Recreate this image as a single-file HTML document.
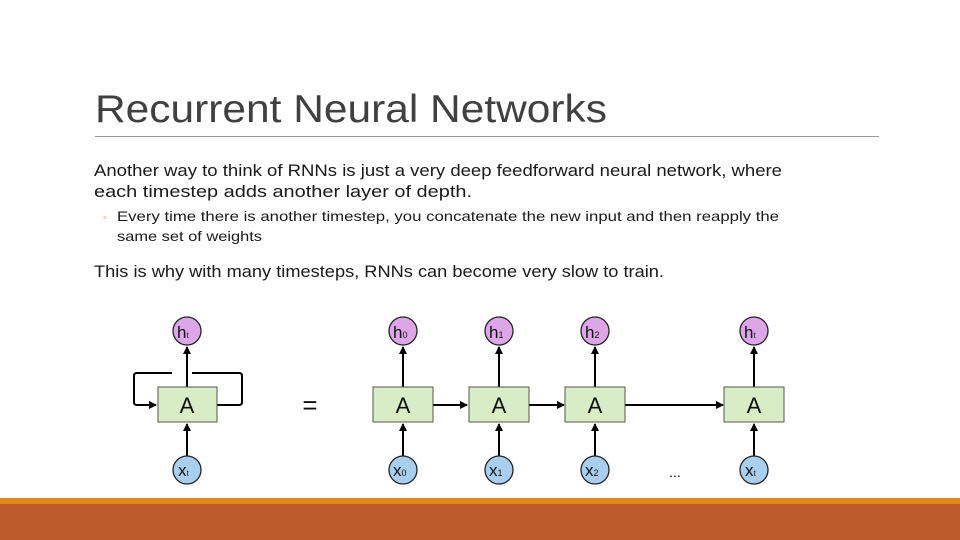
<!DOCTYPE html>
<html><head><meta charset="utf-8"><style>
html,body{margin:0;padding:0;background:#fff}
svg{display:block}
text{font-family:"Liberation Sans",sans-serif}
</style></head><body>
<svg width="960" height="540" viewBox="0 0 960 540" xmlns="http://www.w3.org/2000/svg">
<defs>
<marker id="ar" markerWidth="8" markerHeight="8" refX="7" refY="4" orient="auto" markerUnits="userSpaceOnUse"><path d="M0,0 L8,4 L0,8 z" fill="#000"/></marker>
</defs>
<text x="95" y="122" font-size="39" fill="#404040" textLength="512" lengthAdjust="spacingAndGlyphs">Recurrent Neural Networks</text>
<line x1="95" y1="136.5" x2="879" y2="136.5" stroke="#999" stroke-width="1"/>
<text x="94" y="176" font-size="16.5" fill="#1a1a1a" textLength="688" lengthAdjust="spacingAndGlyphs">Another way to think of RNNs is just a very deep feedforward neural network, where</text>
<text x="94" y="197" font-size="16.5" fill="#1a1a1a" textLength="378" lengthAdjust="spacingAndGlyphs">each timestep adds another layer of depth.</text>
<text x="103" y="221" font-size="11" fill="#E0861E">◦</text>
<text x="117" y="221" font-size="14" fill="#1a1a1a" textLength="662" lengthAdjust="spacingAndGlyphs">Every time there is another timestep, you concatenate the new input and then reapply the</text>
<text x="117" y="241" font-size="14" fill="#1a1a1a" textLength="145" lengthAdjust="spacingAndGlyphs">same set of weights</text>
<text x="94" y="277" font-size="16.5" fill="#1a1a1a" textLength="570" lengthAdjust="spacingAndGlyphs">This is why with many timesteps, RNNs can become very slow to train.</text>

<g stroke="#000" stroke-width="2" fill="none">
<!-- loop -->
<path d="M172,373 L137,373 Q134,373 134,376 L134,402 Q134,405 137,405 L156,405" marker-end="url(#ar)"/>
<path d="M192,373 L239,373 Q242,373 242,376 L242,402 Q242,405 239,405 L217,405"/>
<line x1="187" y1="387" x2="187" y2="347" marker-end="url(#ar)"/>
<line x1="187" y1="456" x2="187" y2="424" marker-end="url(#ar)"/>
<!-- unrolled verticals -->
<line x1="403" y1="387" x2="403" y2="347" marker-end="url(#ar)"/>
<line x1="403" y1="456" x2="403" y2="424" marker-end="url(#ar)"/>
<line x1="499" y1="387" x2="499" y2="347" marker-end="url(#ar)"/>
<line x1="499" y1="456" x2="499" y2="424" marker-end="url(#ar)"/>
<line x1="595" y1="387" x2="595" y2="347" marker-end="url(#ar)"/>
<line x1="595" y1="456" x2="595" y2="424" marker-end="url(#ar)"/>
<line x1="754" y1="387" x2="754" y2="347" marker-end="url(#ar)"/>
<line x1="754" y1="456" x2="754" y2="424" marker-end="url(#ar)"/>
<!-- horizontals -->
<line x1="433" y1="405" x2="467" y2="405" marker-end="url(#ar)"/>
<line x1="529" y1="405" x2="564" y2="405" marker-end="url(#ar)"/>
<line x1="625" y1="405" x2="723" y2="405" marker-end="url(#ar)"/>
</g>
<g stroke="#555" stroke-width="1" fill="#D8EDC6">
<rect x="158" y="387" width="59" height="35"/>
<rect x="373" y="387" width="60" height="35"/>
<rect x="469" y="387" width="60" height="35"/>
<rect x="565" y="387" width="60" height="35"/>
<rect x="724" y="387" width="60" height="35"/>
</g>
<g font-size="22" fill="#111" text-anchor="middle">
<text x="187" y="413">A</text><text x="403" y="413">A</text><text x="499" y="413">A</text><text x="595" y="413">A</text><text x="754" y="413">A</text>
</g>
<text x="310" y="414" font-size="26" text-anchor="middle" fill="#111">=</text>
<g stroke="#222" stroke-width="1.3" fill="#DDA6E8">
<circle cx="187" cy="331" r="14"/><circle cx="403" cy="331" r="14"/><circle cx="499" cy="331" r="14"/><circle cx="595" cy="331" r="14"/><circle cx="754" cy="331" r="14"/>
</g>
<g stroke="#222" stroke-width="1.3" fill="#A9CFEE">
<circle cx="187" cy="470" r="14"/><circle cx="403" cy="470" r="14"/><circle cx="499" cy="470" r="14"/><circle cx="595" cy="470" r="14"/><circle cx="754" cy="470" r="14"/>
</g>
<g font-size="17" fill="#111">
<text x="177" y="338">h<tspan font-size="8">t</tspan></text>
<text x="393" y="338">h<tspan font-size="9">0</tspan></text>
<text x="489" y="338">h<tspan font-size="9">1</tspan></text>
<text x="585" y="338">h<tspan font-size="9">2</tspan></text>
<text x="744" y="338">h<tspan font-size="8">t</tspan></text>
<text x="178" y="476">x<tspan font-size="8">t</tspan></text>
<text x="393" y="476">x<tspan font-size="9">0</tspan></text>
<text x="489" y="476">x<tspan font-size="9">1</tspan></text>
<text x="585" y="476">x<tspan font-size="9">2</tspan></text>
<text x="745" y="476">x<tspan font-size="8">t</tspan></text>
</g>
<text x="675" y="477" font-size="14" text-anchor="middle" fill="#111">...</text>

<rect x="0" y="498" width="960" height="6" fill="#E0861E"/>
<rect x="0" y="504" width="960" height="36" fill="#BC5A2C"/>
</svg>
</body></html>
